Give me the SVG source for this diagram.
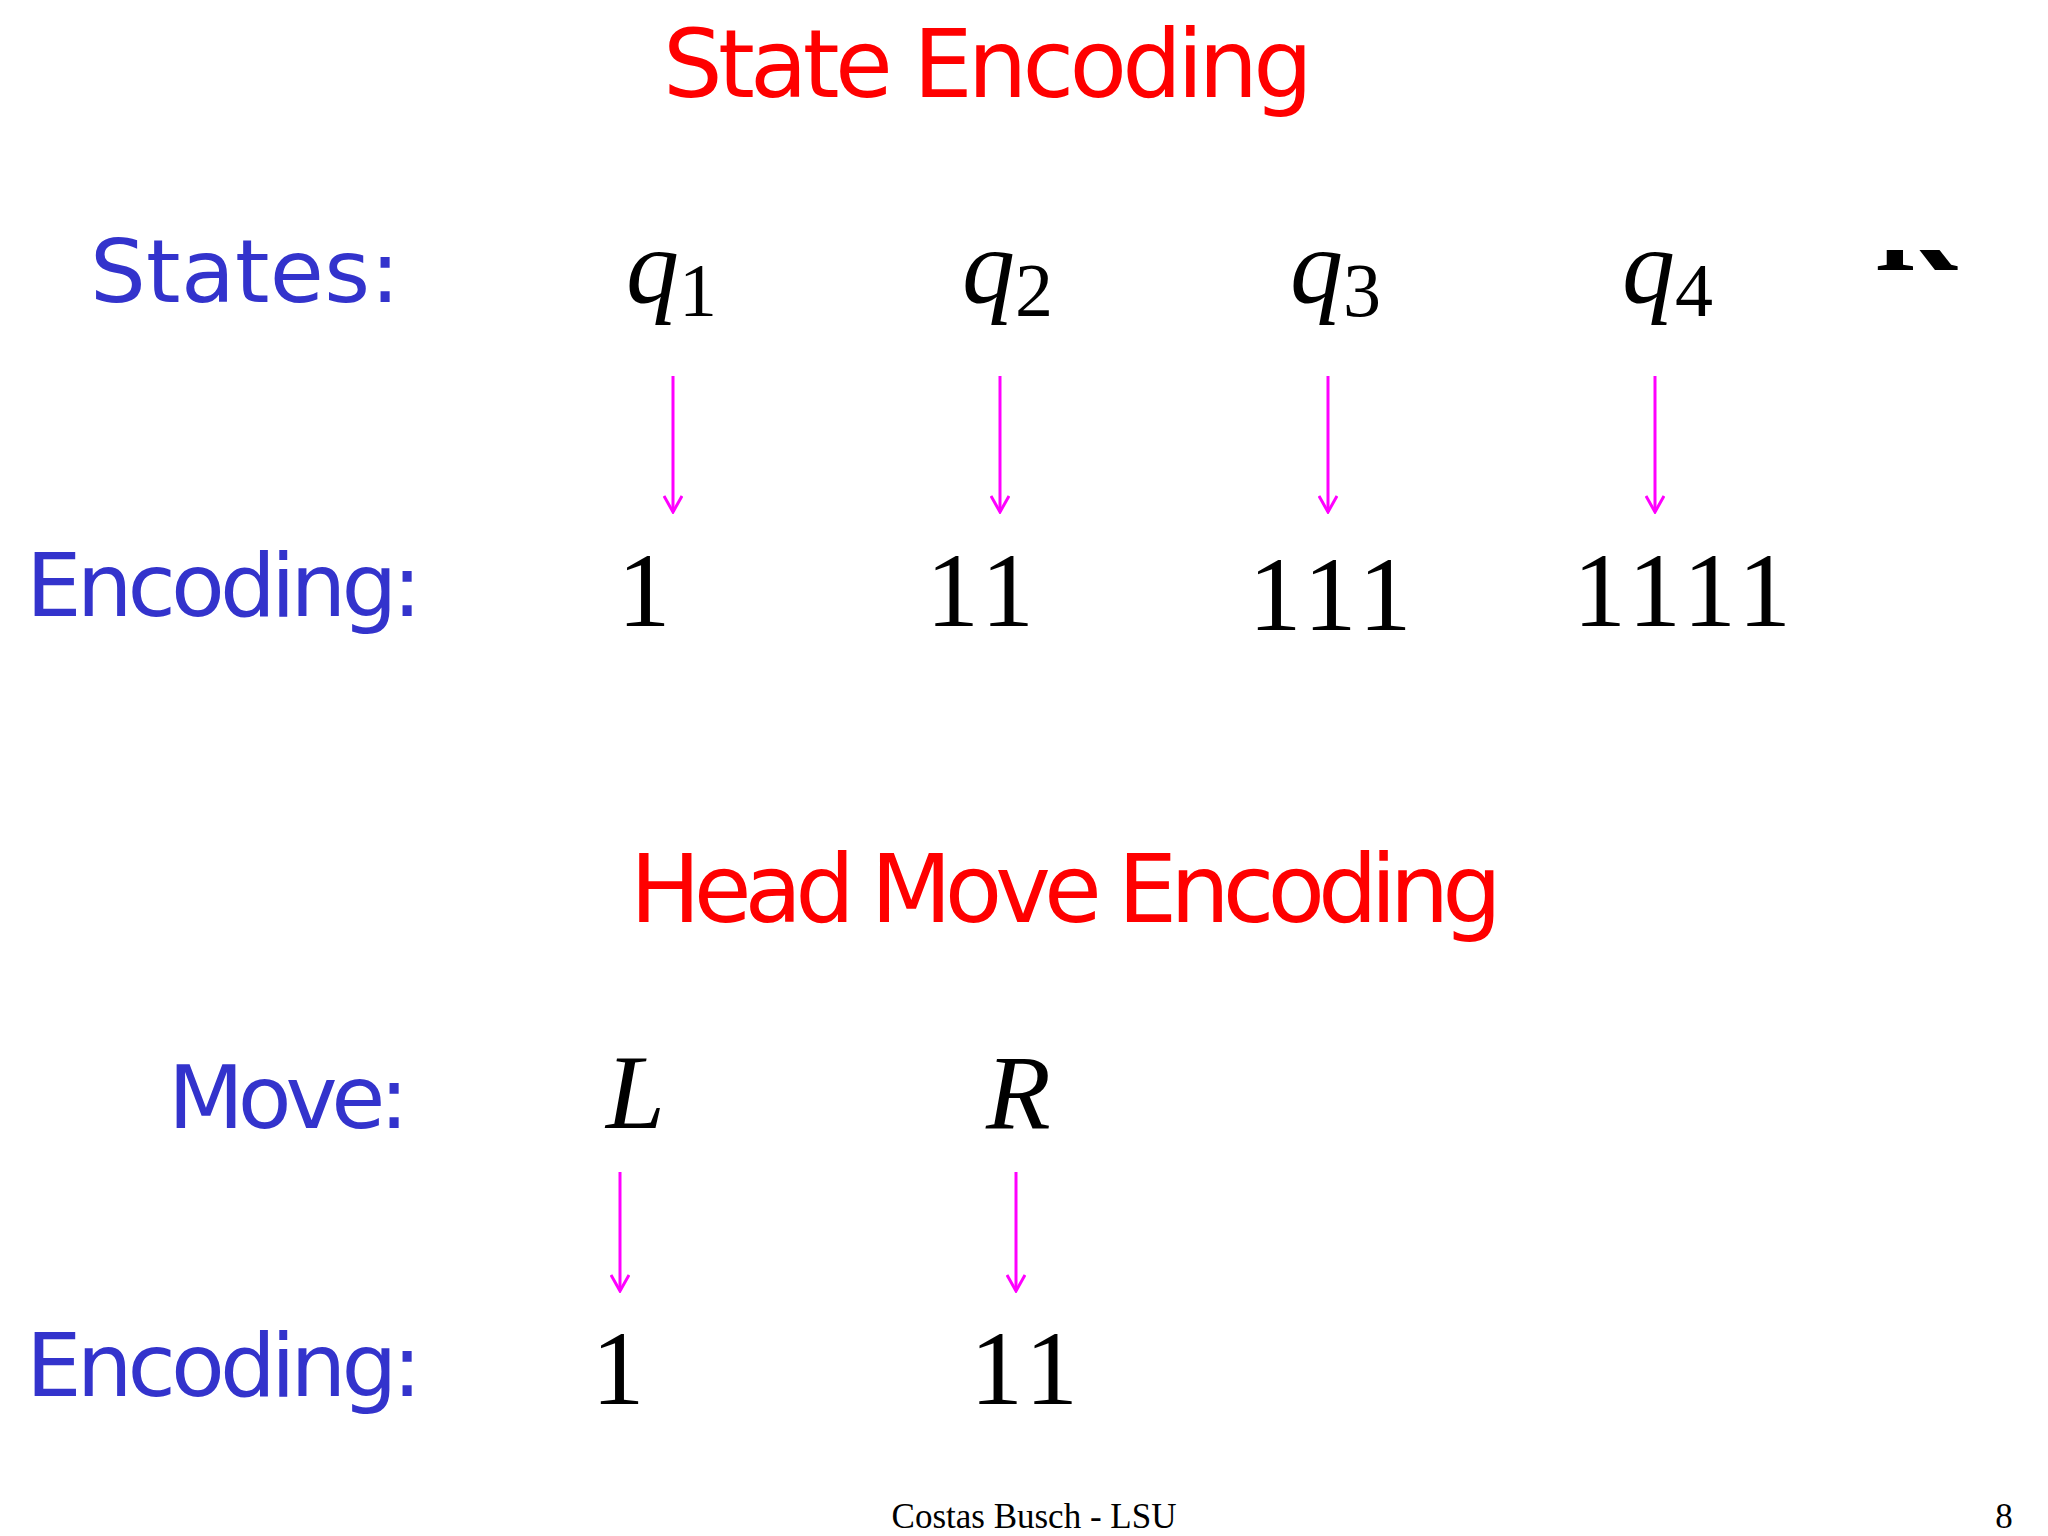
<svg xmlns="http://www.w3.org/2000/svg" width="2048" height="1536" viewBox="0 0 2048 1536">
<style>
.t{font-family:"DejaVu Sans",sans-serif;fill:#ff0000;font-size:94px}
.b{font-family:"DejaVu Sans",sans-serif;fill:#3333cc;font-size:88px}
.m{font-family:"Liberation Serif",serif;fill:#000;font-size:106px}
.i{font-style:italic}
.a{stroke:#ff00ff;stroke-width:3;fill:none}
</style>
<defs>
<marker id="ah" viewBox="0 0 20 20" refX="18" refY="10" markerWidth="20" markerHeight="20" markerUnits="userSpaceOnUse" orient="auto">
<path d="M2,1 L18,10 L2,19" fill="none" stroke="#ff00ff" stroke-width="3"/>
</marker>
<clipPath id="kc"><rect x="1850" y="250" width="120" height="25"/></clipPath>
</defs>
<rect width="2048" height="1536" fill="#fff"/>
<text class="t" x="988" y="97" text-anchor="middle" textLength="650">State Encoding</text>
<text class="b" x="90" y="302" textLength="310">States:</text>
<text class="b" x="26" y="616" textLength="396">Encoding:</text>
<g id="q1"><text class="m" x="626" y="302"><tspan class="i">q</tspan><tspan font-size="76" dy="14">1</tspan></text></g>
<g id="q2"><text class="m" x="962" y="302"><tspan class="i">q</tspan><tspan font-size="76" dy="14">2</tspan></text></g>
<g id="q3"><text class="m" x="1290" y="302"><tspan class="i">q</tspan><tspan font-size="76" dy="14">3</tspan></text></g>
<g id="q4"><text class="m" x="1622" y="302"><tspan class="i">q</tspan><tspan font-size="76" dy="14">4</tspan></text></g>
<g clip-path="url(#kc)"><text class="m" x="1876" y="270" font-weight="bold" font-size="100">K</text></g>
<g id="e1"><text class="m" x="644" y="626" text-anchor="middle">1</text></g>
<g id="e2"><text class="m" x="983" y="626" text-anchor="middle" letter-spacing="6">11</text></g>
<g id="e3"><text class="m" x="1333" y="630" text-anchor="middle" letter-spacing="6">111</text></g>
<g id="e4"><text class="m" x="1685" y="626" text-anchor="middle" letter-spacing="6">1111</text></g>
<text class="t" x="1066" y="922" text-anchor="middle" textLength="872">Head Move Encoding</text>
<text class="b" x="168" y="1128" textLength="241">Move:</text>
<text class="b" x="26" y="1396" textLength="396">Encoding:</text>
<g id="L"><text class="m i" x="606" y="1128">L</text></g>
<g id="R"><text class="m i" x="986" y="1128">R</text></g>
<g id="m1"><text class="m" x="618" y="1404" text-anchor="middle">1</text></g>
<g id="m2"><text class="m" x="1027" y="1404" text-anchor="middle" letter-spacing="6">11</text></g>
<g id="connectors">
<line class="a" x1="673" y1="376" x2="673" y2="512" marker-end="url(#ah)"/>
<line class="a" x1="1000" y1="376" x2="1000" y2="512" marker-end="url(#ah)"/>
<line class="a" x1="1328" y1="376" x2="1328" y2="512" marker-end="url(#ah)"/>
<line class="a" x1="1655" y1="376" x2="1655" y2="512" marker-end="url(#ah)"/>
<line class="a" x1="620" y1="1172" x2="620" y2="1291" marker-end="url(#ah)"/>
<line class="a" x1="1016" y1="1172" x2="1016" y2="1291" marker-end="url(#ah)"/>
</g>
<text x="1034" y="1528" text-anchor="middle" font-family="Liberation Serif,serif" font-size="35">Costas Busch - LSU</text>
<text x="2004" y="1528" text-anchor="middle" font-family="Liberation Serif,serif" font-size="35">8</text>
</svg>
